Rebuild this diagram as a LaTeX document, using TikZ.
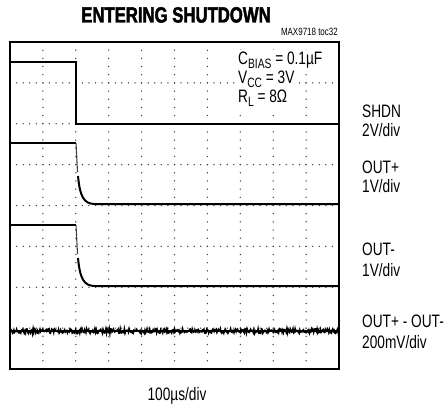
\documentclass[tikz,border=0pt]{standalone}
\usepackage{fontspec}
\setmainfont{Liberation Sans}[FakeStretch=0.76]
\newfontfamily\titlefont{Liberation Sans Bold}[FakeStretch=0.76,FakeBold=2]
\newcommand\subtxt[1]{\raisebox{-0.22em}{\fontsize{13.5}{13.5}\selectfont #1}}
\tikzset{
  lbl/.style={anchor=base west,inner sep=0pt,font=\fontsize{18}{19}\selectfont},
  param/.style={lbl,fill=white,inner xsep=1pt,inner ysep=2pt},
  griddot/.style={fill=black!75},
  trace/.style={line width=2pt,line join=miter},
  edge/.style={line width=1.1pt,black!75}
}
\begin{document}
\begin{tikzpicture}[x=1pt,y=-1pt]
        \useasboundingbox (0,0) rectangle (444,406);
        \node[anchor=base,inner sep=0pt,font=\titlefont\fontsize{22}{22}\selectfont] (title) at (176,22.5) {ENTERING SHUTDOWN};
        \node[anchor=base east,inner sep=0pt,font=\fontsize{10.5}{10.5}\selectfont] (toc) at (338,36) {MAX9718 toc32};
        \foreach \j in {1,...,7}
          \foreach \k in {1,...,49}
            \fill[griddot] (10+\k*6.58, 42+\j*40.875) circle (0.75);
        \foreach \i in {1,...,9}
          \foreach \k in {1,...,39}
            \fill[griddot] (10+\i*32.9, 42+\k*8.175) circle (0.75);
        \draw[trace] (10.5,62) -- (75.5,62) -- (75.5,124.5) -- (339,124.5);
        \draw[trace] (10.5,143) -- (76,143);
        \draw[edge] (76,143) -- (77.5,172);
        \draw[trace] (78,176) .. controls (80,197) and (84,204) .. (95,204) -- (339,204);
        \draw[trace] (10.5,225) -- (76,225);
        \draw[edge] (76,225) -- (77.5,254);
        \draw[trace] (78,258) .. controls (80,279) and (84,286) .. (95,286) -- (339,286);
        \pgfmathsetseed{7}
        \draw[line width=1.5pt] plot[domain=10.5:339,samples=480] (\x,{331+2.4*rand});
        \draw[line width=2pt] (10.5,331) -- (339,331);
        \draw[line width=2.5pt] (10,42) rectangle (339,369);
        \node[param] (cbias) at (237,65) {C\subtxt{BIAS} = 0.1µF};
        \node[param] (vcc) at (237,84) {V\subtxt{CC} = 3V};
        \node[param] (rl) at (237,103) {R\subtxt{L} = 8Ω};
        \node[lbl] (shdn) at (362,118) {SHDN};
        \node[lbl] (shdndiv) at (362,137) {2V/div};
        \node[lbl] (outp) at (362,174) {OUT+};
        \node[lbl] (outpdiv) at (362,193) {1V/div};
        \node[lbl] (outm) at (362,255) {OUT-};
        \node[lbl] (outmdiv) at (362,276) {1V/div};
        \node[lbl] (diff) at (362,327) {OUT+ - OUT-};
        \node[lbl] (diffdiv) at (362,348) {200mV/div};
        \node[lbl,anchor=base] (time) at (177,400) {100µs/div};
      \end{tikzpicture}
\end{document}
